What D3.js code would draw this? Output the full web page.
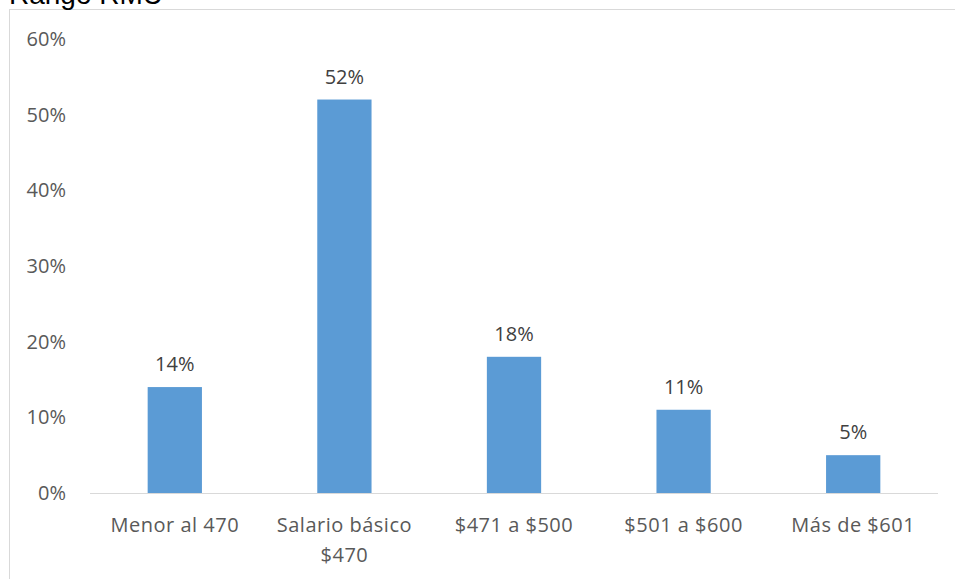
<!DOCTYPE html>
<html>
<head>
<meta charset="utf-8">
<script src="https://cdn.jsdelivr.net/npm/d3@7"></script>
<style>
  html, body { margin: 0; padding: 0; background: #fff; }
  svg { display: block; }
</style>
</head>
<body>
<svg id="chart" width="955" height="579"></svg>
<script>
// Distribution of salaries by range
const categories = [["Menor al 470"], ["Salario básico", "$470"], ["$471 a $500"], ["$501 a $600"], ["Más de $601"]];
const values = [14, 52, 18, 11, 5];
const yTicks = [0, 10, 20, 30, 40, 50, 60];
const title = "Rango RMU";

const svg = d3.select("#chart");
const font = "'Open Sans', sans-serif";

// Chart area frame
svg.append("rect")
  .attr("x", 9.5).attr("y", 9.5)
  .attr("width", 1000).attr("height", 1000)
  .attr("fill", "#fff").attr("stroke", "#d9d9d9").attr("stroke-width", 1);

// Title above the frame
svg.append("text")
  .attr("x", 9).attr("y", 4)
  .attr("font-family", "Arial, 'Liberation Sans', sans-serif")
  .attr("font-size", 28)
  .attr("fill", "#000")
  .text(title);

const plot = { left: 90, right: 938, top: 39, bottom: 493 };

const x = d3.scaleBand()
  .domain(d3.range(categories.length))
  .range([plot.left, plot.right])
  .paddingInner(0.68).paddingOuter(0.34);

const y = d3.scaleLinear().domain([0, 60]).range([plot.bottom, plot.top]);

// Y axis labels
const yAxis = svg.append("g")
  .attr("transform", `translate(${plot.left},0)`)
  .call(d3.axisLeft(y).tickValues(yTicks).tickFormat(d => d + "%").tickSize(0).tickPadding(24));
yAxis.select(".domain").remove();
yAxis.selectAll("text")
  .attr("font-family", font).attr("font-size", 20).attr("fill", "#595959");

// Bars
svg.append("g").selectAll("rect")
  .data(values)
  .join("rect")
  .attr("x", (d, i) => x(i))
  .attr("y", d => y(d))
  .attr("width", x.bandwidth())
  .attr("height", d => y(0) - y(d))
  .attr("fill", "#5b9bd5");

// Value labels
svg.append("g").selectAll("text")
  .data(values)
  .join("text")
  .attr("x", (d, i) => x(i) + x.bandwidth() / 2)
  .attr("y", d => y(d) - 16)
  .attr("text-anchor", "middle")
  .attr("font-family", font).attr("font-size", 20).attr("fill", "#404040")
  .text(d => d + "%");

// Baseline
svg.append("line")
  .attr("x1", plot.left).attr("x2", plot.right)
  .attr("y1", y(0) + 0.5).attr("y2", y(0) + 0.5)
  .attr("stroke", "#d9d9d9").attr("stroke-width", 1);

// Category labels (may wrap onto two lines)
const xl = svg.append("g").selectAll("text")
  .data(categories)
  .join("text")
  .attr("x", (d, i) => x(i) + x.bandwidth() / 2)
  .attr("y", 532)
  .attr("text-anchor", "middle")
  .attr("font-family", font).attr("font-size", 20).attr("letter-spacing", 0.5).attr("fill", "#595959");
xl.selectAll("tspan")
  .data((d, i) => d.map(t => ({ t, cx: x(i) + x.bandwidth() / 2 })))
  .join("tspan")
  .attr("x", d => d.cx)
  .attr("dy", (d, j) => j === 0 ? 0 : 30)
  .text(d => d.t);
</script>
</body>
</html>
